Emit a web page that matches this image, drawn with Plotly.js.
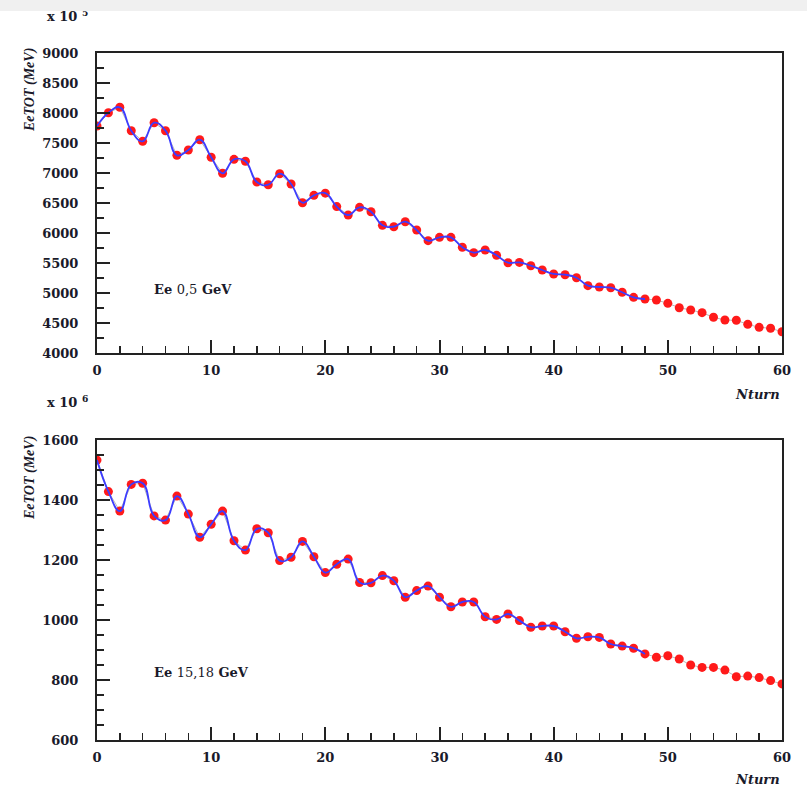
<!DOCTYPE html>
<html>
<head>
<meta charset="utf-8">
<script src="https://cdn.plot.ly/plotly-3.0.1.min.js"></script>
<style>
  html, body { margin: 0; padding: 0; background: #fff; }
  #band { position: absolute; left: 0; top: 0; width: 807px; height: 11px; background: #f0f0f0; z-index: 10; }
  #chart { position: absolute; left: 0; top: 0; width: 807px; height: 800px; }
</style>
</head>
<body>
<div id="band"></div>
<div id="chart"></div>
<script>
// Nturn values (one point per turn)
const nturn = [0,1,2,3,4,5,6,7,8,9,10,11,12,13,14,15,16,17,18,19,20,21,22,23,24,25,26,27,28,29,30,
  31,32,33,34,35,36,37,38,39,40,41,42,43,44,45,46,47,48,49,50,51,52,53,54,55,56,57,58,59,60];

// EeTOT (x 10^5 MeV) for Ee = 0,5 GeV
const eeTot05 = [7783, 8005, 8095, 7705, 7528, 7838, 7705, 7295, 7383, 7555,
  7262, 6995, 7228, 7195, 6850, 6805, 6988, 6817, 6505, 6628,
  6664, 6440, 6300, 6428, 6355, 6128, 6105, 6188, 6050, 5872,
  5928, 5928, 5762, 5672, 5717, 5628, 5505, 5510, 5455, 5383,
  5317, 5305, 5255, 5122, 5100, 5088, 5012, 4928, 4900, 4883,
  4828, 4755, 4717, 4672, 4595, 4550, 4545, 4478, 4428, 4412, 4355];

// EeTOT (x 10^6 MeV) for Ee = 15,18 GeV
const eeTot1518 = [1533, 1428, 1363, 1452, 1456, 1347, 1333, 1413, 1353, 1276,
  1319, 1363, 1264, 1233, 1304, 1291, 1198, 1209, 1262, 1211,
  1158, 1186, 1203, 1125, 1124, 1148, 1131, 1076, 1098, 1113,
  1076, 1044, 1060, 1060, 1011, 1002, 1020, 998, 976, 980,
  980, 961, 939, 944, 942, 920, 913, 906, 887, 876,
  881, 870, 850, 842, 842, 833, 811, 813, 808, 798, 787];

const fitEnd = 48; // blue fitted curve covers turns 0..48

const xTicks = [0,10,20,30,40,50,60];
const yTicksTop = [4000,4500,5000,5500,6000,6500,7000,7500,8000,8500,9000];
const yTicksBot = [600,800,1000,1200,1400,1600];

const tickFont = {family: 'DejaVu Serif', size: 13, color: '#1a1a2a', weight: 'bold'};
const axColor = '#222';

function traces(y, xa, ya) {
  const n = nturn.filter(v => v <= fitEnd).length;
  return [
    {x: nturn, y: y, xaxis: xa, yaxis: ya, mode: 'lines', type: 'scatter',
     line: {color: '#b8b8b8', width: 1}, hoverinfo: 'skip', showlegend: false},
    {x: nturn, y: y, xaxis: xa, yaxis: ya, mode: 'markers', type: 'scatter',
     marker: {color: '#ff1a1a', size: 9}, showlegend: false},
    {x: nturn.slice(0, n), y: y.slice(0, n), xaxis: xa, yaxis: ya, mode: 'lines', type: 'scatter',
     line: {color: '#3c3cff', width: 1.8, shape: 'spline', smoothing: 1.3}, showlegend: false}
  ];
}

const data = [...traces(eeTot05, 'x', 'y'), ...traces(eeTot1518, 'x2', 'y2')];

function xaxis(anchor) {
  return {anchor: anchor, domain: [0, 1], range: [0, 60], tickvals: xTicks, ticktext: xTicks.map(String),
    ticks: 'inside', ticklen: 13, tickwidth: 2, tickcolor: axColor,
    minor: {ticks: 'inside', ticklen: 7, tickwidth: 1.5, tickcolor: axColor, dtick: 2, showgrid: false},
    showline: true, linecolor: axColor, linewidth: 2, mirror: true,
    showgrid: false, zeroline: false, tickfont: tickFont, ticklabelstandoff: 4};
}
function yaxis(anchor, domain, range, vals, minorStep) {
  return {anchor: anchor, domain: domain, range: range, tickvals: vals, ticktext: vals.map(String),
    ticks: 'inside', ticklen: 13, tickwidth: 2, tickcolor: axColor,
    minor: {ticks: 'inside', ticklen: 7, tickwidth: 1.5, tickcolor: axColor, dtick: minorStep, showgrid: false},
    showline: true, linecolor: axColor, linewidth: 2, mirror: true,
    showgrid: false, zeroline: false, tickfont: tickFont, ticklabelstandoff: 14};
}

const titleFontV = {family: 'Liberation Serif', size: 14, color: '#1a1a2a', weight: 'bold', style: 'italic'};
const titleFontH = {family: 'DejaVu Serif', size: 13, color: '#1a1a2a', weight: 'bold', style: 'italic'};
const labFont = {family: 'DejaVu Serif', size: 13, color: '#1a1a2a', weight: 'bold'};

// pixel helpers for annotation placement (plot area: x 97..782, y 53..740)
const L = 97, R = 782, T = 53, B = 740;
const px = v => (v - L) / (R - L);
const py = v => (B - v) / (B - T);

const annotations = [
  {text: 'EeTOT (MeV)', textangle: -90, x: px(30), y: py(90), xref: 'paper', yref: 'paper',
   showarrow: false, font: titleFontV, xanchor: 'center', yanchor: 'middle'},
  {text: 'EeTOT (MeV)', textangle: -90, x: px(30), y: py(478), xref: 'paper', yref: 'paper',
   showarrow: false, font: titleFontV, xanchor: 'center', yanchor: 'middle'},
  {text: 'Nturn', x: 1, y: py(394), xref: 'paper', yref: 'paper', showarrow: false,
   font: titleFontH, xanchor: 'right', yanchor: 'middle'},
  {text: 'Nturn', x: 1, y: py(779), xref: 'paper', yref: 'paper', showarrow: false,
   font: titleFontH, xanchor: 'right', yanchor: 'middle'},
  {text: 'x 10 <sup>5</sup>', x: px(45), y: py(15), xref: 'paper', yref: 'paper', showarrow: false,
   font: labFont, xanchor: 'left', yanchor: 'middle'},
  {text: 'x 10 <sup>6</sup>', x: px(45), y: py(401), xref: 'paper', yref: 'paper', showarrow: false,
   font: labFont, xanchor: 'left', yanchor: 'middle'},
  {text: 'Ee <span style="font-weight:normal">0,5</span> GeV', x: px(152), y: py(289), xref: 'paper', yref: 'paper',
   showarrow: false, font: labFont, xanchor: 'left', yanchor: 'middle'},
  {text: 'Ee <span style="font-weight:normal">15,18</span> GeV', x: px(152), y: py(672), xref: 'paper', yref: 'paper',
   showarrow: false, font: labFont, xanchor: 'left', yanchor: 'middle'}
];

const layout = {
  width: 807, height: 800,
  margin: {l: L, r: 807 - R, t: T, b: 800 - B},
  paper_bgcolor: '#ffffff', plot_bgcolor: '#ffffff',
  showlegend: false,
  xaxis: xaxis('y'),
  yaxis: yaxis('x', [py(353), 1], [4000, 9000], yTicksTop, 250),
  xaxis2: xaxis('y2'),
  yaxis2: yaxis('x2', [0, py(440)], [600, 1600], yTicksBot, 50),
  annotations: annotations
};

Plotly.newPlot('chart', data, layout, {displayModeBar: false, staticPlot: true});
</script>
</body>
</html>
